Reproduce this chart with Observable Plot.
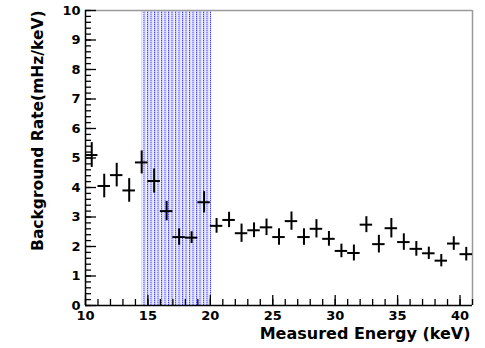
<!DOCTYPE html>
<html>
<head>
<meta charset="utf-8">
<script src="https://cdn.jsdelivr.net/npm/d3@7"></script>
<script src="https://cdn.jsdelivr.net/npm/@observablehq/plot@0.6"></script>
<style>
  html, body { margin: 0; padding: 0; background: #fff; }
  #chart { width: 485px; height: 348px; }
</style>
</head>
<body>
<div id="chart"></div>
<script>
// Bin centres (keV), background rate (mHz/keV) and its error
const energy = [10.5, 11.5, 12.5, 13.5, 14.5, 15.5, 16.5, 17.5, 18.5, 19.5, 20.5, 21.5, 22.5, 23.5, 24.5, 25.5, 26.5, 27.5, 28.5, 29.5, 30.5, 31.5, 32.5, 33.5, 34.5, 35.5, 36.5, 37.5, 38.5, 39.5, 40.5];
const rate   = [5.1, 4.05, 4.42, 3.9, 4.85, 4.22, 3.2, 2.32, 2.3, 3.5, 2.7, 2.9, 2.45, 2.55, 2.65, 2.32, 2.86, 2.32, 2.6, 2.26, 1.85, 1.78, 2.74, 2.08, 2.62, 2.15, 1.92, 1.77, 1.52, 2.1, 1.74];
const rateErr = [0.42, 0.4, 0.4, 0.4, 0.39, 0.41, 0.33, 0.28, 0.2, 0.36, 0.25, 0.26, 0.31, 0.25, 0.28, 0.28, 0.31, 0.28, 0.31, 0.25, 0.23, 0.27, 0.27, 0.3, 0.33, 0.28, 0.25, 0.21, 0.21, 0.23, 0.23];
const binHalfWidth = 0.5;
const shadedRegion = [14.5, 20.1];
const xDomain = [10, 41];
const yDomain = [0, 10];
const xMajorTicks = [10, 15, 20, 25, 30, 35, 40];
const xMinorTicks = d3.range(10, 41.01, 1);
const yMajorTicks = [0, 1, 2, 3, 4, 5, 6, 7, 8, 9, 10];
const yMinorTicks = d3.range(0, 10.001, 0.2);
const xTitle = "Measured Energy (keV)";
const yTitle = "Background Rate(mHz/keV)";

const data = energy.map((e, i) => ({e, r: rate[i], err: rateErr[i]}));

const font = "'DejaVu Sans', Verdana, sans-serif";

const chart = Plot.plot({
  width: 485,
  height: 348,
  marginLeft: 85,
  marginRight: 13,
  marginTop: 10,
  marginBottom: 43,
  style: {fontFamily: font, background: "#fff", color: "#000"},
  x: {domain: xDomain, axis: null},
  y: {domain: yDomain, axis: null},
  marks: [
    Plot.rect([shadedRegion], {x1: d => d[0], x2: d => d[1], y1: yDomain[0], y2: yDomain[1], fill: "url(#dots)"}),
    // frame top/right (gray)
    Plot.ruleY([yDomain[1]], {stroke: "#9a9a9a", strokeWidth: 1.5}),
    Plot.ruleX([xDomain[1]], {stroke: "#9a9a9a", strokeWidth: 1.5}),
    // X axis ticks (inside)
    Plot.axisX({ticks: xMinorTicks, tickSize: -6, tickFormat: () => "", stroke: "#000", strokeWidth: 1.3, label: null}),
    Plot.axisX({ticks: xMajorTicks, tickSize: -10, tickFormat: () => "", stroke: "#000", strokeWidth: 1.3, label: null}),
    Plot.axisX({ticks: xMajorTicks, tickSize: 0, tickPadding: 5, fontSize: 13, fontWeight: "bold", label: null, fill: "#000"}),
    // Y axis ticks (inside)
    Plot.axisY({ticks: yMinorTicks, tickSize: -6, tickFormat: () => "", stroke: "#000", strokeWidth: 1.3, label: null}),
    Plot.axisY({ticks: yMajorTicks, tickSize: -11, tickFormat: () => "", stroke: "#000", strokeWidth: 1.3, label: null}),
    Plot.axisY({ticks: yMajorTicks, tickSize: 0, tickPadding: 5, fontSize: 13, fontWeight: "bold", label: null, fill: "#000"}),
    // axis lines
    Plot.ruleX([xDomain[0]], {stroke: "#000", strokeWidth: 1.5}),
    Plot.ruleY([yDomain[0]], {stroke: "#000", strokeWidth: 1.5}),
    // error crosses
    Plot.ruleX(data, {x: "e", y1: d => d.r - d.err, y2: d => d.r + d.err, stroke: "#000", strokeWidth: 2}),
    Plot.ruleY(data, {y: "r", x1: d => d.e - binHalfWidth, x2: d => d.e + binHalfWidth, stroke: "#000", strokeWidth: 2}),
    // axis titles
    Plot.text([xTitle], {frameAnchor: "bottom-right", text: d => d, textAnchor: "end", dx: -2, dy: 33, fontSize: 16, fontWeight: "bold", fill: "#000"}),
    Plot.text([yTitle], {frameAnchor: "top-left", text: d => d, textAnchor: "end", rotate: -90, dx: -54, dy: 0, fontSize: 15.5, fontWeight: "bold", fill: "#000"})
  ]
});

// dotted hatch pattern for shaded region
const svg = d3.select(chart);
const defs = svg.insert("defs", ":first-child");
const pat = defs.append("pattern").attr("id", "dots").attr("patternUnits", "userSpaceOnUse")
  .attr("width", 3.5).attr("height", 2);
pat.append("rect").attr("width", 3.5).attr("height", 2).attr("fill", "#f2f2ff");
pat.append("rect").attr("x", 0).attr("y", 0).attr("width", 1.1).attr("height", 1).attr("fill", "#3a3aff");
pat.append("rect").attr("x", 0).attr("y", 1).attr("width", 1.1).attr("height", 1).attr("fill", "#a8a8ff");
pat.append("rect").attr("x", 1.1).attr("y", 0).attr("width", 1).attr("height", 2).attr("fill", "#d2d2ff");

document.getElementById("chart").appendChild(chart);
</script>
</body>
</html>
